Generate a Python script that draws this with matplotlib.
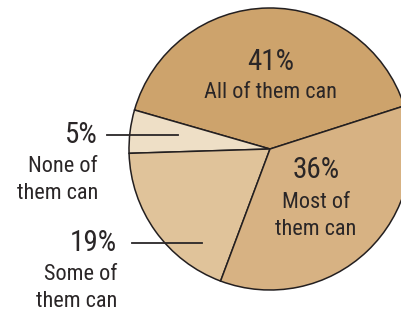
import matplotlib
matplotlib.use("Agg")
import matplotlib.pyplot as plt
from matplotlib import font_manager

# slice data (counter-clockwise from the right)
shares = [41, 5, 19, 36]
pct_labels = ["41%", "5%", "19%", "36%"]
names = ["All of them can", "None of\nthem can", "Some of\nthem can", "Most of\nthem can"]
colors = ["#cda36c", "#eedfc6", "#e0c39a", "#d7b283"]

W, H = 401, 313
installed = {f.name for f in font_manager.fontManager.ttflist}
wanted = ['Roboto Condensed', 'Liberation Sans Narrow', 'DejaVu Sans Condensed', 'Liberation Sans']
family = next(f for f in wanted if f in installed)
plt.rcParams['font.family'] = [family, 'DejaVu Sans']
ink = "#2a2627"
pct_size = 21
name_size = 16

fig = plt.figure(figsize=(W / 100, H / 100), dpi=100)
ax = fig.add_axes([0, 0, 1, 1])

ax.pie(shares, colors=colors, startangle=17.8, center=(270, 164), radius=141,
       wedgeprops=dict(edgecolor="#231f20", linewidth=1.1), frame=True)
ax.set_xlim(0, W)
ax.set_ylim(0, H)
ax.set_aspect('equal')
ax.axis('off')


def y(py):
    return H - py


# labels inside the pie
ax.text(271, y(62), pct_labels[0], ha='center', va='center', fontsize=pct_size, color=ink)
ax.text(270, y(92), names[0], ha='center', va='center', fontsize=name_size, color=ink)
ax.text(316, y(170), pct_labels[3], ha='center', va='center', fontsize=pct_size, color=ink)
ax.text(316, y(216), names[3], ha='center', va='center', fontsize=name_size, color=ink,
        linespacing=1.4)

# outside labels with leader lines
ax.text(98, y(135), pct_labels[1], ha='right', va='center', fontsize=pct_size, color=ink)
ax.text(98, y(180), names[1], ha='right', va='center', fontsize=name_size, color=ink,
        linespacing=1.4)
ax.plot([107, 178], [y(135), y(135)], color=ink, lw=1.3)

ax.text(117, y(243), pct_labels[2], ha='right', va='center', fontsize=pct_size, color=ink)
ax.text(117, y(288), names[2], ha='right', va='center', fontsize=name_size, color=ink,
        linespacing=1.4)
ax.plot([132, 202], [y(243), y(243)], color=ink, lw=1.3)

fig.savefig("out.png", dpi=100)
